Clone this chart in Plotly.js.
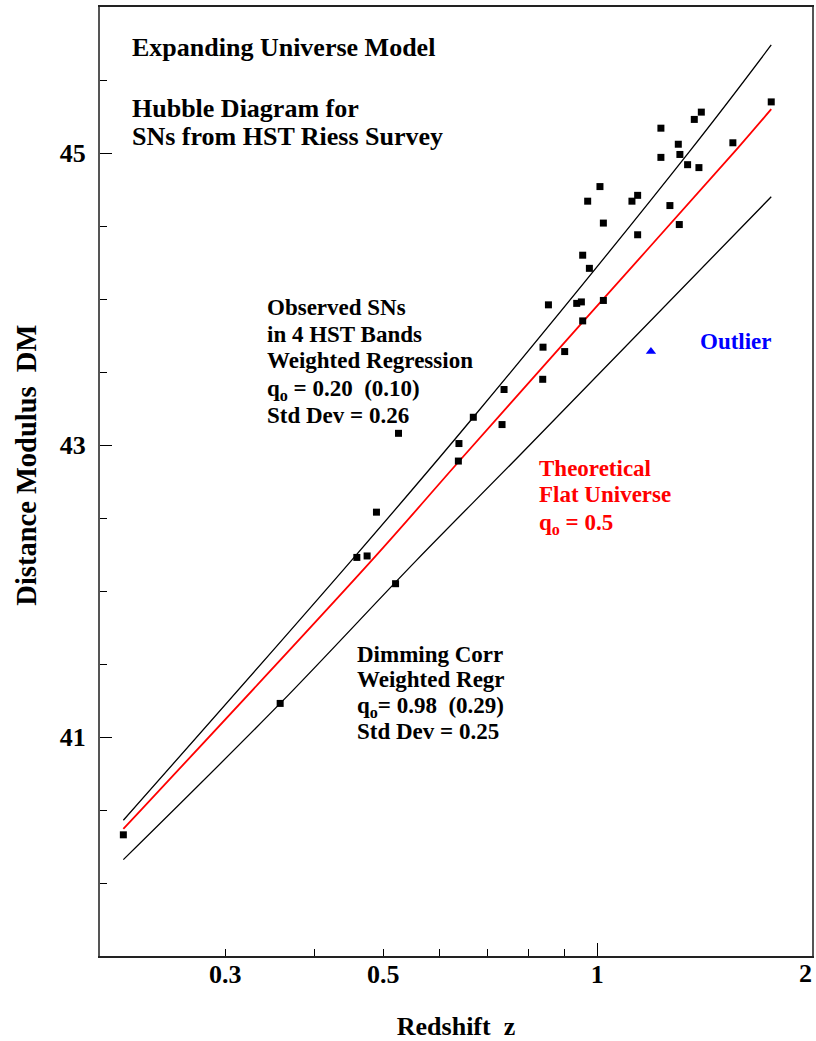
<!DOCTYPE html>
<html>
<head>
<meta charset="utf-8">
<script src="https://cdn.plot.ly/plotly-3.0.1.min.js"></script>
<style>html,body{margin:0;padding:0;background:#fff;}#chart{width:816px;height:1041px;}</style>
</head>
<body>
<div id="chart"></div>
<script>
// Observed supernovae (redshift z, distance modulus DM)
const obsZ = [0.2157, 0.3583, 0.4592, 0.4747, 0.4893, 0.5205, 0.5255, 0.6390, 0.6378, 0.6694,
              0.7346, 0.7394, 0.8380, 0.8388, 0.8536, 0.8997, 0.9354, 0.9497, 0.9537, 0.9537,
              0.9746, 0.9692, 1.0085, 1.0197, 1.0197, 1.1185, 1.1393, 1.1393, 1.2284, 1.2284,
              1.2647, 1.2995, 1.3062, 1.3037, 1.3392, 1.3685, 1.4000, 1.3892, 1.5505, 1.7555];
const obsDM = [40.33, 41.23, 42.23, 42.24, 42.54, 42.05, 43.08, 43.01, 42.89, 43.19,
               43.14, 43.38, 43.45, 43.67, 43.96, 43.64, 43.97, 43.98, 43.85, 44.30,
               44.21, 44.67, 44.77, 44.52, 43.99, 44.67, 44.71, 44.44, 45.17, 44.97,
               44.64, 45.06, 44.99, 44.51, 44.92, 45.23, 45.28, 44.90, 45.07, 45.35];
// Outlier
const outZ = [1.1894];
const outDM = [43.64];
// Weighted regression of observed SNs (q0 = 0.20)
const upperZ = [0.2157, 0.4514, 0.6694, 1.3522, 1.7555];
const upperDM = [40.43, 42.21, 43.19, 45.02, 45.74];
// Theoretical flat universe (q0 = 0.5)
const theoryZ = [0.2157, 0.4840, 0.6370, 0.9528, 1.5730, 1.7555];
const theoryDM = [40.37, 42.22, 42.88, 43.84, 45.03, 45.30];
// Dimming corrected weighted regression (q0 = 0.98)
const lowerZ = [0.2157, 0.3583, 0.5569, 0.7780, 1.7555];
const lowerDM = [40.16, 41.23, 42.21, 42.93, 44.70];
// Axis ticks
const xTickVals = [0.3, 0.5, 1, 2];
const xTickText = ['0.3', '0.5', '1', '2'];
const xMinorVals = [0.4, 0.6, 0.7, 0.8, 0.9];
const xLongTick = [1];
const yTickVals = [41, 43, 45];
const yTickText = ['41', '43', '45'];
const yMinorVals = [40, 40.5, 41.5, 42, 42.5, 43.5, 44, 44.5, 45.5];

const SERIF = 'Liberation Serif, Times New Roman, serif';
const traces = [
  {x: upperZ, y: upperDM, mode: 'lines', line: {color: '#000', width: 1.3, shape: 'spline', smoothing: 1}, hoverinfo: 'skip'},
  {x: theoryZ, y: theoryDM, mode: 'lines', line: {color: '#ff0000', width: 1.8, shape: 'spline', smoothing: 1}, hoverinfo: 'skip'},
  {x: lowerZ, y: lowerDM, mode: 'lines', line: {color: '#000', width: 1.3, shape: 'spline', smoothing: 1}, hoverinfo: 'skip'},
  {x: obsZ, y: obsDM, mode: 'markers', marker: {symbol: 'square', size: 7, color: '#000'}},
  {x: outZ, y: outDM, xaxis: 'x2', mode: 'markers', marker: {symbol: 'triangle-up', size: 9, color: '#0000ff'}}
];

function ann(text, px, py, color) {
  return {text: text, xref: 'paper', yref: 'paper', x: (px - 100) / 712, y: (956.3 - py) / 949,
          xanchor: 'left', yanchor: 'middle', showarrow: false, align: 'left',
          font: {family: SERIF, size: 23, color: color || '#000', weight: 700}};
}
function annT(text, px, py) {
  const a = ann(text, px, py); a.font.size = 26; return a;
}
const NB = '\u00A0';
// Tick labels drawn by the axis for all but the last value; the last one (at the
// right edge of the axis) is drawn as a right-anchored label so it stays inside the page.
const shownTickText = xTickText.map((t, i) => i === xTickText.length - 1 ? '' : t);
const annotations = [
  annT('Expanding Universe Model', 130, 48),
  annT('Hubble Diagram for', 130, 108.5),
  annT('SNs from HST Riess Survey', 130, 136.8),
  ann('Observed SNs', 264.7, 308.2),
  ann('in 4 HST Bands', 264.7, 334.9),
  ann('Weighted Regression', 264.7, 360.5),
  ann('q<sub>o</sub> = 0.20' + NB + NB + '(0.10)', 264.7, 390.5),
  ann('Std Dev = 0.26', 264.7, 416.2),
  ann('Dimming Corr', 355.3, 654.5),
  ann('Weighted Regr', 355.3, 679.5),
  ann('q<sub>o</sub>= 0.98' + NB + NB + '(0.29)', 355.3, 707.1),
  ann('Std Dev = 0.25', 355.3, 732.2),
  ann('Theoretical', 537, 468.9, '#ff0000'),
  ann('Flat Universe', 537, 494.9, '#ff0000'),
  ann('q<sub>o</sub> = 0.5', 537, 523.85, '#ff0000'),
  ann('Outlier', 698, 342.2, '#0000ff'),
  {text: 'Distance Modulus' + NB + NB + 'DM', xref: 'paper', yref: 'paper',
   x: (27 - 100) / 712, y: (956.3 - 466) / 949, xanchor: 'center', yanchor: 'middle',
   textangle: -90, showarrow: false,
   font: {family: SERIF, size: 28.5, color: '#000', weight: 700}},
  {text: xTickText[xTickText.length - 1], xref: 'x', yref: 'paper',
   x: Math.log10(xTickVals[xTickVals.length - 1]), y: (956.3 - 973.5) / 949,
   xanchor: 'right', yanchor: 'middle', xshift: 2, showarrow: false,
   font: {family: SERIF, size: 26, color: '#000', weight: 700}}
];

const xRange = [Math.log10(0.2), Math.log10(2.003)];
const layout = {
  width: 816, height: 1041,
  margin: {l: 100, r: 4, t: 7, b: 85},
  paper_bgcolor: '#fff', plot_bgcolor: '#fff',
  showlegend: false,
  font: {family: SERIF, color: '#000'},
  xaxis: {
    type: 'log', range: xRange,
    tickmode: 'array', tickvals: xTickVals, ticktext: shownTickText,
    ticks: 'inside', ticklen: 7, tickwidth: 1, tickcolor: '#000',
    minor: {tickmode: 'array', tickvals: xMinorVals, ticks: 'inside', ticklen: 7, tickwidth: 1, tickcolor: '#000', showgrid: false},
    showgrid: false, zeroline: false,
    showline: true, mirror: true, linecolor: '#222', linewidth: 2,
    tickfont: {family: SERIF, size: 26, weight: 700},
    ticklabelstandoff: -6,
    title: {text: 'Redshift' + NB + NB + 'z', font: {family: SERIF, size: 26, weight: 700}, standoff: 29}
  },
  xaxis2: {
    type: 'log', range: xRange, overlaying: 'x', matches: 'x', side: 'bottom',
    tickmode: 'array', tickvals: xLongTick, showticklabels: false,
    ticks: 'inside', ticklen: 13, tickwidth: 1, tickcolor: '#000',
    showgrid: false, zeroline: false, showline: false
  },
  yaxis: {
    range: [39.5, 46],
    tickmode: 'array', tickvals: yTickVals, ticktext: yTickText,
    ticks: 'inside', ticklen: 12, tickwidth: 1, tickcolor: '#000',
    minor: {tickmode: 'array', tickvals: yMinorVals, ticks: 'inside', ticklen: 7, tickwidth: 1, tickcolor: '#000', showgrid: false},
    showgrid: false, zeroline: false,
    showline: true, mirror: true, linecolor: '#555', linewidth: 2,
    tickfont: {family: SERIF, size: 26, weight: 700},
    ticklabelstandoff: 7,
    title: {text: ''}
  },
  annotations: annotations
};

Plotly.newPlot('chart', traces, layout, {displayModeBar: false, staticPlot: true});
</script>
</body>
</html>
